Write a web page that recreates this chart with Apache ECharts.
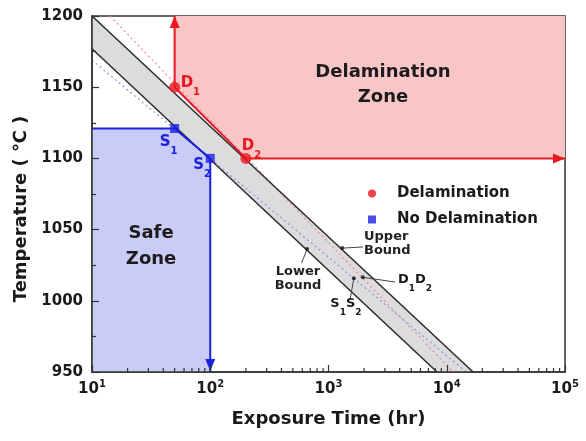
<!DOCTYPE html>
<html>
<head>
<meta charset="utf-8">
<script src="https://cdn.jsdelivr.net/npm/echarts@6/dist/echarts.min.js"></script>
<style>
  html, body { margin: 0; padding: 0; background: #ffffff; }
  #chart { width: 586px; height: 441px; }
</style>
</head>
<body>
<div id="chart"></div>
<script>
// ---- axis ticks ----
const xExponents = [1, 2, 3, 4, 5];           // labels 10^1 ... 10^5
const yTicks = [950, 1000, 1050, 1100, 1150, 1200];

// ---- band of the scatter (exposure hours, temperature °C) ----
const upperBound = [[10, 1200], [16700, 950]];
const lowerBound = [[10, 1177], [8280, 950]];
// fitted trend lines inside the band
const fitDelam = [[14.2, 1200], [11350, 950]];
const fitSafe = [[10, 1169], [14600, 950]];

// ---- test points ----
const delamPoints = [[50, 1150], [200, 1100]];
const delamNames = ['1', '2'];
const safePoints = [[50, 1121], [100, 1100]];
const safeNames = ['1', '2'];

// ---- zone boundaries ----
const delamPath = [[50, 1200], [50, 1150], [200, 1100], [100000, 1100]];
const safePath = [[10, 1121], [50, 1121], [100, 1100], [100, 950]];

// ---- callouts ----
const calloutDots = [[1306, 1037], [659, 1036.4], [1637, 1015.8], [1950, 1016.5]];
const calloutLeaders = [
  [[1306, 1037], [1960, 1037.8]],
  [[659, 1036.4], [593, 1026.5]],
  [[1637, 1015.8], [1521, 1000.6]],
  [[1950, 1016.5], [3650, 1013.2]]
];
const upperText = [1995, 1040];
const lowerText = [552, 1015.7];
const s1s2Text = [1406, 995.6];
const d1d2Text = [3870, 1012.5];
const delamZoneText = [2890, 1152];
const safeZoneText = [31.6, 1038.5];

// ---- styling ----
const FONT = 'DejaVu Sans';
const INK = '#1a1a1a';
const RED = '#e8161e';
const BLUE = '#1a22e0';
const AXIS = '#333333';

const delamLabelOffsets = [[6, -12], [-4, -20]];
const safeLabelOffsets = [[-15, 6], [-17, -1]];

function subRich(color, big, small) {
  return {
    m: { fontFamily: FONT, fontWeight: 'bold', fontSize: big, color: color, lineHeight: big + 1, verticalAlign: 'top', opacity: 1 },
    s: { fontFamily: FONT, fontWeight: 'bold', fontSize: small, color: color, lineHeight: big + 7, verticalAlign: 'bottom', opacity: 1 }
  };
}

// minor ticks of the logarithmic time axis (2..9 within each decade)
const minorX = [];
for (let e = 1; e < 5; e++) {
  for (let m = 2; m <= 9; m++) minorX.push([m * Math.pow(10, e), 950]);
}

function pathData(path, startArrow, endArrow) {
  return path.map((p, i) => {
    if (i === 0 && startArrow) return Object.assign({ value: p, symbol: 'triangle' }, startArrow);
    if (i === path.length - 1 && endArrow) return Object.assign({ value: p, symbol: 'triangle' }, endArrow);
    return { value: p, symbol: 'none' };
  });
}

// free text anchored at a data position
function textPoint(pos, text, align, rich, extra) {
  const color = (extra && extra.color) || INK;
  return {
    type: 'custom', silent: true, z: 20,
    data: [pos],
    renderItem: function (params, api) {
      const p = api.coord([api.value(0), api.value(1)]);
      const style = Object.assign({
        text: text, x: p[0], y: p[1], align: align, verticalAlign: 'middle',
        fontFamily: FONT, fontWeight: 'bold', fill: color, rich: rich || {}
      }, extra || {});
      delete style.color;
      return { type: 'text', style: style };
    }
  };
}

const chart = echarts.init(document.getElementById('chart'), null, { renderer: 'canvas' });

const option = {
  animation: false,
  backgroundColor: '#ffffff',
  grid: { left: 92, right: 21, top: 16, bottom: 69, show: true, borderColor: AXIS, borderWidth: 1.5, backgroundColor: 'transparent' },
  legend: {
    data: ['Delamination', 'No Delamination'],
    orient: 'vertical', left: 363, top: 181, itemGap: 11,
    itemWidth: 8, itemHeight: 8,
    textStyle: { fontFamily: FONT, fontWeight: 'bold', fontSize: 15, color: INK, padding: [0, 0, 0, 16] }
  },
  xAxis: {
    type: 'log', logBase: 10, min: 10, max: 100000, z: 12,
    axisLine: { show: true, lineStyle: { color: AXIS, width: 1.5 } },
    axisTick: { show: true, inside: true, length: 7, lineStyle: { color: AXIS, width: 1.2 } },
    splitLine: { show: false },
    minorTick: { show: false },
    axisLabel: {
      margin: 7,
      formatter: function (v) {
        const e = Math.round(Math.log10(v));
        return xExponents.indexOf(e) >= 0 ? '{b|10}{s|' + e + '}' : '';
      },
      rich: {
        b: { fontFamily: FONT, fontWeight: 'bold', fontSize: 15, color: INK, lineHeight: 18, verticalAlign: 'bottom' },
        s: { fontFamily: FONT, fontWeight: 'bold', fontSize: 10, color: INK, lineHeight: 18, verticalAlign: 'top' }
      }
    },
    name: 'Exposure Time (hr)', nameLocation: 'middle', nameGap: 38,
    nameTextStyle: { fontFamily: FONT, fontWeight: 'bold', fontSize: 18, color: INK }
  },
  yAxis: {
    type: 'value', min: yTicks[0], max: yTicks[yTicks.length - 1], interval: 50, z: 12,
    axisLine: { show: true, lineStyle: { color: AXIS, width: 1.5 } },
    axisTick: { show: true, inside: true, length: 7, lineStyle: { color: AXIS, width: 1.2 } },
    minorTick: { show: true, splitNumber: 2, length: 4, lineStyle: { color: AXIS, width: 1.2 } },
    splitLine: { show: false },
    axisLabel: { margin: 9, fontFamily: FONT, fontWeight: 'bold', fontSize: 15, color: INK,
      formatter: v => (yTicks.indexOf(v) >= 0 ? String(v) : '') },
    name: 'Temperature ( ℃ )', nameLocation: 'middle', nameGap: 61,
    nameTextStyle: { fontFamily: FONT, fontWeight: 'bold', fontSize: 18, color: INK, padding: [0, 30, 0, 0] }
  },
  series: [
    // delamination zone fill (towards the top of the axis)
    {
      type: 'line', data: delamPath.slice(1), symbol: 'none', silent: true, z: 1,
      lineStyle: { width: 0 }, areaStyle: { color: '#f9c6c8', opacity: 1, origin: 'end' }
    },
    // safe zone fill (towards the bottom of the axis)
    {
      type: 'line', data: safePath.slice(0, 3), symbol: 'none', silent: true, z: 1,
      lineStyle: { width: 0 }, areaStyle: { color: '#c9ccf7', opacity: 1, origin: 'start' }
    },
    // grey scatter band
    {
      type: 'custom', silent: true, z: 2,
      data: [upperBound[0]],
      renderItem: function (params, api) {
        const pts = [upperBound[0], upperBound[1], lowerBound[1], lowerBound[0]].map(p => api.coord(p));
        return { type: 'polygon', shape: { points: pts }, style: { fill: '#dcdcdc' } };
      }
    },
    // trend lines
    { type: 'line', data: fitDelam, symbol: 'none', silent: true, z: 3,
      lineStyle: { color: '#e48c9a', width: 1.2, type: [2, 3] } },
    { type: 'line', data: fitSafe, symbol: 'none', silent: true, z: 3,
      lineStyle: { color: '#8a94da', width: 1.2, type: [2, 3] } },
    // band edges
    { type: 'line', data: upperBound, symbol: 'none', silent: true, z: 4,
      lineStyle: { color: '#2a2a2a', width: 1.5 } },
    { type: 'line', data: lowerBound, symbol: 'none', silent: true, z: 4,
      lineStyle: { color: '#2a2a2a', width: 1.5 } },
    // zone borders with arrows
    {
      type: 'line', silent: true, z: 5, clip: false, showSymbol: true,
      data: pathData(delamPath,
        { symbolSize: [10, 12], symbolRotate: 0, symbolOffset: [0, 6] },
        { symbolSize: [10, 12], symbolRotate: -90, symbolOffset: [-6, 0] }),
      lineStyle: { color: RED, width: 2 }, itemStyle: { color: RED }
    },
    {
      type: 'line', silent: true, z: 5, clip: false, showSymbol: true,
      data: pathData(safePath, null,
        { symbolSize: [10, 12], symbolRotate: 180, symbolOffset: [0, -7] }),
      lineStyle: { color: BLUE, width: 2 }, itemStyle: { color: BLUE }
    },
    // minor ticks on the time axis
    {
      type: 'custom', silent: true, z: 13, data: minorX,
      renderItem: function (params, api) {
        const p = api.coord([api.value(0), api.value(1)]);
        return { type: 'line', shape: { x1: p[0], y1: p[1], x2: p[0], y2: p[1] - 4 },
          style: { stroke: AXIS, lineWidth: 1.2 } };
      }
    },
    // test points
    {
      name: 'Delamination', type: 'scatter', symbol: 'circle', symbolSize: 11, z: 10,
      itemStyle: { color: RED },
      data: delamPoints.map((p, i) => ({
        value: p,
        label: { show: true, position: 'inside', align: 'left', verticalAlign: 'top',
          offset: delamLabelOffsets[i], formatter: '{m|D}{s|' + delamNames[i] + '}', rich: subRich(RED, 15, 10) }
      }))
    },
    {
      name: 'No Delamination', type: 'scatter', symbol: 'rect', symbolSize: 9, z: 10,
      itemStyle: { color: BLUE },
      data: safePoints.map((p, i) => ({
        value: p,
        label: { show: true, position: 'inside', align: 'left', verticalAlign: 'top',
          offset: safeLabelOffsets[i], formatter: '{m|S}{s|' + safeNames[i] + '}', rich: subRich(BLUE, 15, 10) }
      }))
    },
    // callout leaders and dots
    ...calloutLeaders.map(seg => ({
      type: 'line', data: seg, symbol: 'none', silent: true, z: 8,
      lineStyle: { color: '#444', width: 1 }
    })),
    { type: 'scatter', data: calloutDots, symbolSize: 4, silent: true, z: 9, itemStyle: { color: '#111' } },
    // callout and zone texts
    textPoint(upperText, 'Upper\nBound', 'left', null, { fontSize: 13, lineHeight: 14.5, color: '#222' }),
    textPoint(lowerText, 'Lower\nBound', 'center', null, { fontSize: 13, lineHeight: 13.5, color: '#222' }),
    textPoint(s1s2Text, '{m|S}{s|1}{m|S}{s|2}', 'center', subRich('#222', 13, 9)),
    textPoint(d1d2Text, '{m|D}{s|1}{m|D}{s|2}', 'left', subRich('#222', 13, 9)),
    textPoint(delamZoneText, 'Delamination\nZone', 'center', null, { fontSize: 18, lineHeight: 25, color: '#1f1b1c' }),
    textPoint(safeZoneText, 'Safe\nZone', 'center', null, { fontSize: 18, lineHeight: 26, color: '#1f1b1c' })
  ]
};

chart.setOption(option);
</script>
</body>
</html>
